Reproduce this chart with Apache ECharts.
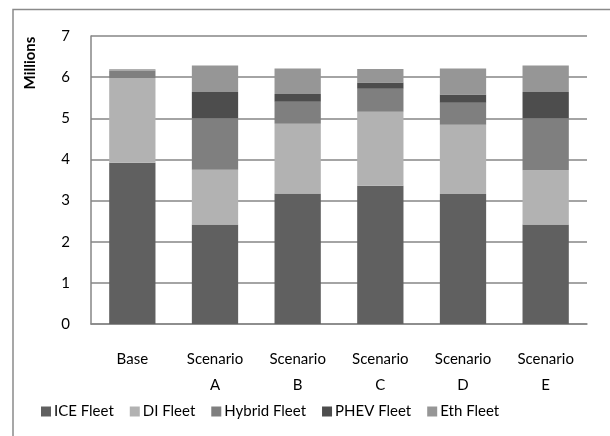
<!DOCTYPE html>
<html><head><meta charset="utf-8">
<script src="https://cdn.jsdelivr.net/npm/echarts@6/dist/echarts.min.js"></script>
<style>html,body{margin:0;padding:0;background:#fff}#c{width:610px;height:436px}</style>
</head><body><div id="c"></div>
<script>
var categories = ['Base', 'Scenario\nA', 'Scenario\nB', 'Scenario\nC', 'Scenario\nD', 'Scenario\nE'];
var iceFleet = [3.92, 2.42, 3.17, 3.36, 3.16, 2.42];
var diFleet = [2.06, 1.33, 1.70, 1.80, 1.68, 1.32];
var hybridFleet = [0.18, 1.25, 0.53, 0.56, 0.54, 1.26];
var phevFleet = [0.00, 0.64, 0.19, 0.15, 0.20, 0.64];
var ethFleet = [0.03, 0.64, 0.62, 0.33, 0.63, 0.64];
var yTicks = [0, 1, 2, 3, 4, 5, 6, 7];

var FONT = 'Lato';
var chart = echarts.init(document.getElementById('c'), null, {renderer: 'canvas'});
function s(name, data, color) {
  return {name: name, type: 'bar', stack: 'total', data: data, barWidth: '56%',
    itemStyle: {color: color}, emphasis: {disabled: true}};
}
chart.setOption({
  animation: false,
  textStyle: {fontFamily: FONT},
  grid: {left: 91, right: 23, top: 36, bottom: 112, containLabel: false},
  graphic: [
    {type: 'rect', shape: {x: 13, y: 9.5, width: 700, height: 500}, style: {fill: 'none', stroke: '#8a8a8a', lineWidth: 1.5}, silent: true},
    {type: 'text', x: 30, y: 63, rotation: Math.PI / 2, style: {text: 'Millions', font: 'bold 15px ' + FONT, fill: '#000', align: 'center', verticalAlign: 'middle'}}
  ],
  legend: {
    bottom: 12, left: 36, itemWidth: 10, itemHeight: 10, itemGap: 16,
    icon: 'rect', textStyle: {fontSize: 15, color: '#000', fontFamily: FONT, padding: [0, 0, 0, -2]},
    data: ['ICE Fleet', 'DI Fleet', 'Hybrid Fleet', 'PHEV Fleet', 'Eth Fleet']
  },
  xAxis: {
    type: 'category', data: categories,
    axisLine: {lineStyle: {color: '#868686', width: 1.5}},
    axisTick: {show: false},
    axisLabel: {fontSize: 15, color: '#000', lineHeight: 26, margin: 22, interval: 0, fontFamily: FONT}
  },
  yAxis: {
    type: 'value', min: yTicks[0], max: yTicks[yTicks.length - 1], interval: 1,
    axisLine: {show: true, lineStyle: {color: '#868686', width: 1.5}},
    axisTick: {show: false},
    splitLine: {lineStyle: {color: '#868686', width: 1.5}},
    axisLabel: {fontSize: 15, color: '#000', margin: 21, fontFamily: FONT}
  },
  series: [
    s('ICE Fleet', iceFleet, '#606060'),
    s('DI Fleet', diFleet, '#b2b2b2'),
    s('Hybrid Fleet', hybridFleet, '#7f7f7f'),
    s('PHEV Fleet', phevFleet, '#4d4d4d'),
    s('Eth Fleet', ethFleet, '#969696')
  ]
});
</script></body></html>
